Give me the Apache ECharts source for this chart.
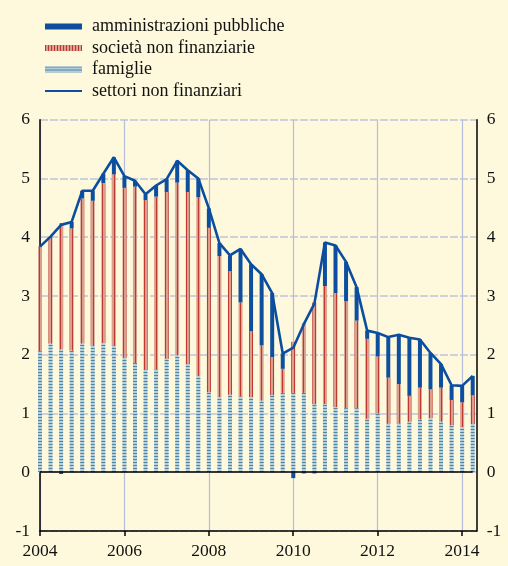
<!DOCTYPE html>
<html><head><meta charset="utf-8">
<script src="https://cdn.jsdelivr.net/npm/echarts@6/dist/echarts.min.js"></script>
<style>html,body{margin:0;padding:0;background:#FEF9DC;} #c{width:508px;height:566px;}</style>
</head><body><div id="c"></div>
<script>
// quarterly periods
const periods = [
  '2004 T1','2004 T2','2004 T3','2004 T4','2005 T1','2005 T2','2005 T3','2005 T4',
  '2006 T1','2006 T2','2006 T3','2006 T4','2007 T1','2007 T2','2007 T3','2007 T4',
  '2008 T1','2008 T2','2008 T3','2008 T4','2009 T1','2009 T2','2009 T3','2009 T4',
  '2010 T1','2010 T2','2010 T3','2010 T4','2011 T1','2011 T2','2011 T3','2011 T4',
  '2012 T1','2012 T2','2012 T3','2012 T4','2013 T1','2013 T2','2013 T3','2013 T4',
  '2014 T1','2014 T2'
];
const famiglie = [
  2.06,2.19,2.09,2.07,2.19,2.15,2.20,2.15,
  1.95,1.86,1.74,1.75,1.93,1.99,1.84,1.64,
  1.36,1.28,1.32,1.29,1.28,1.22,1.31,1.35,
  1.35,1.35,1.16,1.16,1.11,1.09,1.09,0.91,
  1.00,0.83,0.83,0.86,0.90,0.92,0.86,0.80,
  0.77,0.82
];
const societa = [
  1.79,1.81,2.15,2.08,2.47,2.47,2.72,2.92,
  2.89,3.00,2.89,2.94,2.84,2.94,2.93,3.04,
  2.80,2.40,2.10,1.60,1.12,0.94,0.65,0.41,
  0.87,1.19,1.73,2.01,1.94,1.82,1.49,1.36,
  0.97,0.78,0.67,0.44,0.54,0.49,0.58,0.43,
  0.42,0.49
];
const amministrazioni = [
  0.00,0.01,-0.03,0.11,0.13,0.17,0.16,0.29,
  0.20,0.10,0.10,0.19,0.22,0.37,0.37,0.32,
  0.33,0.22,0.27,0.91,1.14,1.21,1.09,0.26,
  -0.10,-0.02,-0.02,0.74,0.81,0.67,0.57,0.14,
  0.40,0.69,0.84,0.99,0.82,0.62,0.40,0.25,
  0.28,0.33
];
const settori = [
  3.84,4.01,4.21,4.26,4.79,4.79,5.08,5.36,
  5.04,4.96,4.73,4.88,4.99,5.30,5.14,5.00,
  4.49,3.90,3.69,3.80,3.54,3.37,3.05,2.02,
  2.12,2.52,2.87,3.91,3.86,3.58,3.15,2.41,
  2.37,2.30,2.34,2.29,2.26,2.03,1.84,1.48,
  1.47,1.64
];
const yearLabels = [2004,2006,2008,2010,2012,2014];
const names = ['amministrazioni pubbliche','società non finanziarie','famiglie','settori non finanziari'];

const FONT = 'Liberation Serif';
const TOP = 119.7, BOTTOM = 35;
const chart = echarts.init(document.getElementById('c'), null, {renderer:'canvas'});
chart.setOption({
  backgroundColor:'#FEF9DC',
  animation:false,
  grid:[
    {left:40, right:31.3, top:TOP, bottom:BOTTOM},   // frame, year axis
    {left:40, right:35.3, top:TOP, bottom:BOTTOM}    // quarterly marks
  ],
  legend:{
    orient:'vertical', left:40, top:12.5,
    itemWidth:37, itemHeight:6, itemGap:3.5,
    textStyle:{fontFamily:FONT, fontSize:18, color:'#111', lineHeight:18, padding:[0,0,0,5]},
    data:[
      {name:names[0], icon:'rect'},
      {name:names[1], icon:'rect'},
      {name:names[2], icon:'rect'},
      {name:names[3], icon:'path://M0,0H37V2.2H0Z'}
    ]
  },
  xAxis:[
    {gridIndex:0, type:'value', min:2004, max:2014.35, interval:2,
     axisLine:{onZero:false, lineStyle:{color:'#000', width:1.5}},
     axisTick:{show:true, length:5, lineStyle:{color:'#000', width:1.5}, customValues:yearLabels},
     axisLabel:{fontFamily:FONT, fontSize:17.5, color:'#111', margin:11, customValues:yearLabels,
       formatter:v=>String(v)},
     splitLine:{show:true, lineStyle:{color:'#B6BDDC', width:1.2}}},
    {gridIndex:1, type:'category', data:periods, boundaryGap:false,
     axisLine:{show:false}, axisTick:{show:false}, axisLabel:{show:false}, splitLine:{show:false}}
  ],
  yAxis:[
    {gridIndex:0, type:'value', min:-1, max:6, interval:1, position:'left',
     axisLine:{show:true, lineStyle:{color:'#000', width:1.5}},
     axisTick:{show:false},
     axisLabel:{fontFamily:FONT, fontSize:17.5, color:'#111', margin:10},
     splitLine:{show:true, lineStyle:{color:'#BFC3DA', width:1.5, type:[8,2]}}},
    {gridIndex:0, type:'value', min:-1, max:6, interval:1, position:'right',
     axisLine:{show:true, lineStyle:{color:'#000', width:1.5}},
     axisTick:{show:false},
     axisLabel:{fontFamily:FONT, fontSize:17.5, color:'#111', margin:10},
     splitLine:{show:false}},
    {gridIndex:1, type:'value', min:-1, max:6, interval:1, show:false}
  ],
  series:[
    {name:names[2], type:'bar', stack:'tot', barWidth:4, xAxisIndex:1, yAxisIndex:2, data:famiglie,
     itemStyle:{color:'#B4CEDC', decal:{symbol:'rect', symbolSize:1, dashArrayX:[1,0], dashArrayY:[1,2], color:'#4E86A3'}},
     markLine:{silent:true, symbol:'none', label:{show:false}, animation:false,
       lineStyle:{color:'#000', width:1.5, type:'solid'}, data:[{yAxis:0}]}},
    {name:names[1], type:'bar', stack:'tot', barWidth:4, xAxisIndex:1, yAxisIndex:2, data:societa,
     itemStyle:{color:'#DA9E8E', decal:{symbol:'rect', symbolSize:1, dashArrayX:[1,2], dashArrayY:[1,0], color:'#BC3A30'}}},
    {name:names[0], type:'bar', stack:'tot', barWidth:3.5, xAxisIndex:1, yAxisIndex:2, data:amministrazioni,
     itemStyle:{color:'#0D4F9E'}},
    {name:names[3], type:'line', xAxisIndex:1, yAxisIndex:2, data:settori, symbol:'none', z:5,
     lineStyle:{color:'#0B4EA0', width:2.6}, itemStyle:{color:'#0B4EA0'}}
  ]
});
</script></body></html>
